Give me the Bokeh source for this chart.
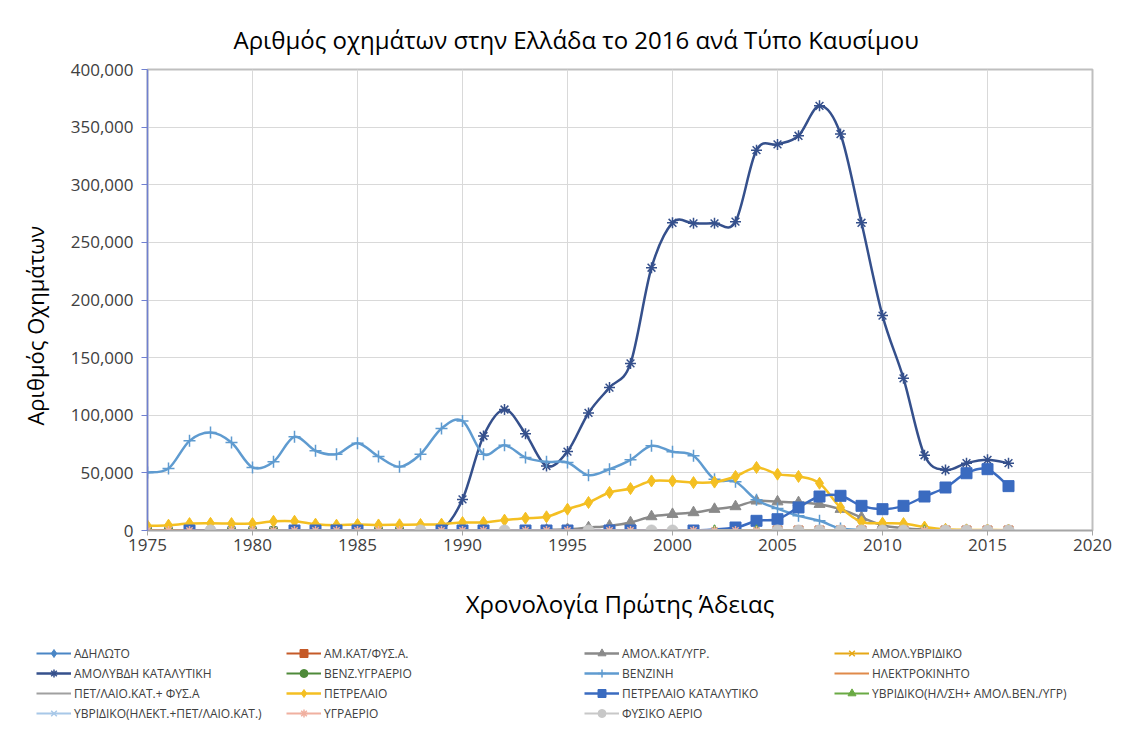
from bokeh.plotting import figure
from bokeh.models import (ColumnDataSource, Legend, LegendItem, FixedTicker,
                          NumeralTickFormatter, Range1d)
from bokeh.embed import file_html
from bokeh.resources import INLINE

N = None
NAN = float("nan")
years = list(range(1975, 2017))

# ---- data, 1975..2016 ----
adilwto = [0] * 42
am_kat_fys = [N]*28 + [0, N, 0, 0, 0, 0, 0, 0, 0, N, 0, 0, 0, 0]
amol_kat_ygr = [N]*19 + [500, 1000, 2500, 4000, 6900, 12100, 14100, 15600, 18500, 20800,
                         25700, 25000, 24300, 22800, 18500, 11300, 4600, 2000, 800, 300,
                         200, 100, 100]
amol_hybrid = [N]*30 + [0]*12
amolyvdi = [0]*14 + [500, 27000, 82000, 105000, 84000, 56000, 68500, 102000, 124000, 145000,
                     228000, 267000, 266500, 266500, 268000, 330000, 335000, 342500, 368500,
                     344000, 267000, 186500, 132000, 65300, 52500, 58400, 61300, 58400]
benz_ygr = [0, 0, N, N, 0, 0, 0, N, N, N, N, 0, 0] + [N]*29
venzini = [50300, 53800, 77800, 85000, 76300, 54700, 59600, 81300, 69200, 66200,
           75800, 64200, 55300, 66200, 88500, 95100, 66200, 74000, 63300, 59600,
           59000, 48000, 53200, 61300, 73500, 68300, 64800, 44500, 42300, 26600,
           19000, 12700, 8400, 1700, 500, 300, 200, 100, 100, 0, 0, 0]
ilektro = [0] * 42
pet_kat_fys = [N]*30 + [0]*12
petrelaio = [4000, 4600, 6000, 6200, 6000, 6000, 8000, 8000, 5500, 4600,
             5200, 4800, 5000, 5200, 5500, 6900, 7000, 9000, 10700, 11900,
             18500, 24300, 33000, 36400, 43000, 43000, 41600, 42000, 46900, 54700,
             48900, 46900, 41000, 20000, 7500, 6400, 6000, 3000, 1000, 500, 400, 300]
petrelaio_kat = [N, N, 0, N, N, N, N, 0, 0, 0, 0, N, N, N, 0, 0, 0, N, 0, 0,
                 0, N, 0, 0, N, N, 0, N, 2600, 8400, 9800, 20000, 29500, 30100, 21400,
                 18500, 21400, 29500, 37300, 49700, 53200, 38500]
hybrid_amol_ben = [N]*27 + [0, N, 0] + [N]*7 + [0] + [N]*4
hybrid_pet = [N]*33 + [0]*9
ygraerio = [0] * 42
fysiko = [N, N, N, 0, N, N, N, N, N, N, N, N, N, 0, N, N, N, 0, N, N,
          N, 0, N, N, 0, 0, N, N, N, N, 0, 0, 0, 0, 0, 0, 0, N, 0, 0, 0, 0]

series_names = ["ΑΔΗΛΩΤΟ", "ΑΜ.ΚΑΤ/ΦΥΣ.Α.", "ΑΜΟΛ.ΚΑΤ/ΥΓΡ.", "ΑΜΟΛ.ΥΒΡΙΔΙΚΟ",
                "ΑΜΟΛΥΒΔΗ ΚΑΤΑΛΥΤΙΚΗ", "ΒΕΝΖ.ΥΓΡΑΕΡΙΟ", "ΒΕΝΖΙΝΗ", "ΗΛΕΚΤΡΟΚΙΝΗΤΟ",
                "ΠΕΤ/ΛΑΙΟ.ΚΑΤ.+ ΦΥΣ.Α", "ΠΕΤΡΕΛΑΙΟ", "ΠΕΤΡΕΛΑΙΟ ΚΑΤΑΛΥΤΙΚΟ",
                "ΥΒΡΙΔΙΚΟ(ΗΛ/ΣΗ+ ΑΜΟΛ.ΒΕΝ./ΥΓΡ)", "ΥΒΡΙΔΙΚΟ(ΗΛΕΚΤ.+ΠΕΤ/ΛΑΙΟ.ΚΑΤ.)",
                "ΥΓΡΑΕΡΙΟ", "ΦΥΣΙΚΟ ΑΕΡΙΟ"]
series_values = [adilwto, am_kat_fys, amol_kat_ygr, amol_hybrid, amolyvdi, benz_ygr,
                 venzini, ilektro, pet_kat_fys, petrelaio, petrelaio_kat,
                 hybrid_amol_ben, hybrid_pet, ygraerio, fysiko]

# style: (color, line width, marker, marker size)
styles = [
    ("#4a86c5", 2.0, "diamond", 11),
    ("#c55a28", 2.0, "square", 9),
    ("#8a8a8a", 2.5, "triangle", 11),
    ("#e6a817", 2.0, "x", 9),
    ("#35508c", 2.5, "asterisk", 11),
    ("#4e8a3a", 2.0, "circle", 9),
    ("#5f9bd0", 2.5, "cross", 12),
    ("#e08a4a", 2.0, None, 0),
    ("#a0a0a0", 2.0, None, 0),
    ("#f4bf22", 2.5, "diamond", 12),
    ("#3a6bc0", 2.5, "square", 11),
    ("#6aaa44", 2.0, "triangle", 10),
    ("#a8c8e8", 2.0, "x", 9),
    ("#f0b0a0", 2.0, "asterisk", 9),
    ("#c8c8c8", 2.0, "circle", 11),
]

FONT = "Open Sans"
W = 1121
H_MAIN = 632
H_LEG = 92

p = figure(width=W, height=H_MAIN, output_backend="svg", toolbar_location=None,
           x_range=Range1d(1975, 2020), y_range=Range1d(0, 400000),
           min_border_left=147, min_border_right=29, min_border_top=69,
           min_border_bottom=102)

p.title.text = "Αριθμός οχημάτων στην Ελλάδα το 2016 ανά Τύπο Καυσίμου"
p.title.text_font = FONT
p.title.text_font_size = "24px"
p.title.text_font_style = "normal"
p.title.text_color = "#000000"
p.title.align = "left"
p.title.offset = 86
p.title.standoff = 28

p.outline_line_color = "#bfbfbf"
p.outline_line_width = 2
p.background_fill_color = "white"
p.border_fill_color = "white"

p.xgrid.grid_line_color = "#d9d9d9"
p.ygrid.grid_line_color = "#d9d9d9"

p.xaxis.ticker = FixedTicker(ticks=[1975, 1980, 1985, 1990, 1995, 2000, 2005, 2010, 2015, 2020])
p.yaxis.ticker = FixedTicker(ticks=list(range(0, 400001, 50000)))
p.yaxis.formatter = NumeralTickFormatter(format="0,0")
for ax in (p.xaxis, p.yaxis):
    ax.major_label_text_font = FONT
    ax.major_label_text_font_size = "17px"
    ax.major_label_text_color = "#404040"
    ax.axis_label_text_font = FONT
    ax.axis_label_text_font_style = "normal"
    ax.axis_label_text_color = "#000000"
    ax.minor_tick_line_color = None
    ax.major_tick_in = 0
p.xaxis.axis_label = "Χρονολογία Πρώτης Άδειας"
p.xaxis.axis_label_text_font_size = "24px"
# trailing no-break spaces nudge the centred vertical title down, as in the original
p.yaxis.axis_label = "Αριθμός Οχημάτων" + "\u00a0" * 9
p.yaxis.axis_label_text_font_size = "22px"
p.xaxis.axis_line_color = "#a6a6a6"
p.xaxis.axis_line_width = 1.5
p.xaxis.major_tick_line_color = "#a6a6a6"
p.xaxis.major_tick_out = 5
p.xaxis.major_label_standoff = 3
p.xaxis.axis_label_standoff = 33
p.yaxis.axis_line_color = "#7080d0"
p.yaxis.axis_line_width = 1.5
p.yaxis.major_tick_line_color = "#7080d0"
p.yaxis.major_tick_out = 6
p.yaxis.major_label_standoff = 8
p.yaxis.axis_label_standoff = 18


def smooth_segments(xs, ys):
    pts = [(x, y) for x, y in zip(xs, ys) if y is not None]
    d = dict(x0=[], y0=[], x1=[], y1=[], cx0=[], cy0=[], cx1=[], cy1=[])
    n = len(pts)
    for i in range(n - 1):
        p0 = pts[i - 1] if i > 0 else pts[i]
        p1 = pts[i]
        p2 = pts[i + 1]
        p3 = pts[i + 2] if i + 2 < n else pts[i + 1]
        d["x0"].append(p1[0]); d["y0"].append(p1[1])
        d["x1"].append(p2[0]); d["y1"].append(p2[1])
        d["cx0"].append(p1[0] + (p2[0] - p0[0]) / 6.0)
        d["cy0"].append(p1[1] + (p2[1] - p0[1]) / 6.0)
        d["cx1"].append(p2[0] - (p3[0] - p1[0]) / 6.0)
        d["cy1"].append(p2[1] - (p3[1] - p1[1]) / 6.0)
    return d


def add_markers(fig, src, marker, size, color):
    if marker in ("x", "asterisk", "cross"):
        return fig.scatter("x", "y", source=src, marker=marker, size=size,
                           line_color=color, line_width=1.5, fill_color=None)
    return fig.scatter("x", "y", source=src, marker=marker, size=size,
                       line_color=color, line_width=1, fill_color=color)


# legend strip below the chart (no axes, its frame is the whole strip)
lg = figure(width=W, height=H_LEG, output_backend="svg", toolbar_location=None,
            x_range=Range1d(0, 1), y_range=Range1d(0, 1),
            x_axis_type=None, y_axis_type=None,
            min_border=0, outline_line_color=None)
lg.grid.visible = False

items = []
for name, vals, st in zip(series_names, series_values, styles):
    color, lw, marker, msize = st
    seg = ColumnDataSource(smooth_segments(years, vals))
    p.bezier(x0="x0", y0="y0", x1="x1", y1="y1", cx0="cx0", cy0="cy0",
             cx1="cx1", cy1="cy1", source=seg, line_color=color, line_width=lw)
    # line swatch for the legend (a NaN point draws nothing)
    swatch = lg.line(x=[NAN], y=[NAN], line_color=color, line_width=lw)
    rends = [swatch]
    if marker is not None:
        px = [x for x, v in zip(years, vals) if v is not None]
        py = [v for v in vals if v is not None]
        src = ColumnDataSource(dict(x=px, y=py))
        add_markers(p, src, marker, msize, color)
        # same data in the strip, outside its 0..1 view: only the legend swatch shows
        rends.append(add_markers(lg, src, marker, msize, color))
    items.append(LegendItem(label=name, renderers=rends))

# four legend columns, filled row by row as in the original
col_x = [36, 286, 584, 834]
ROW_H = 20
for k in range(4):
    col_items = items[k::4]
    y0 = 1 + (4 - len(col_items)) * ROW_H
    leg = Legend(items=col_items, location=(col_x[k], y0), orientation="vertical",
                 glyph_width=35, glyph_height=ROW_H, label_standoff=3,
                 label_height=ROW_H, spacing=0, padding=0, margin=0,
                 label_text_font=FONT, label_text_font_size="12px",
                 label_text_color="#404040", border_line_color=None,
                 background_fill_alpha=0)
    lg.add_layout(leg, "center")

open("out.html", "w").write(file_html([p, lg], INLINE))
